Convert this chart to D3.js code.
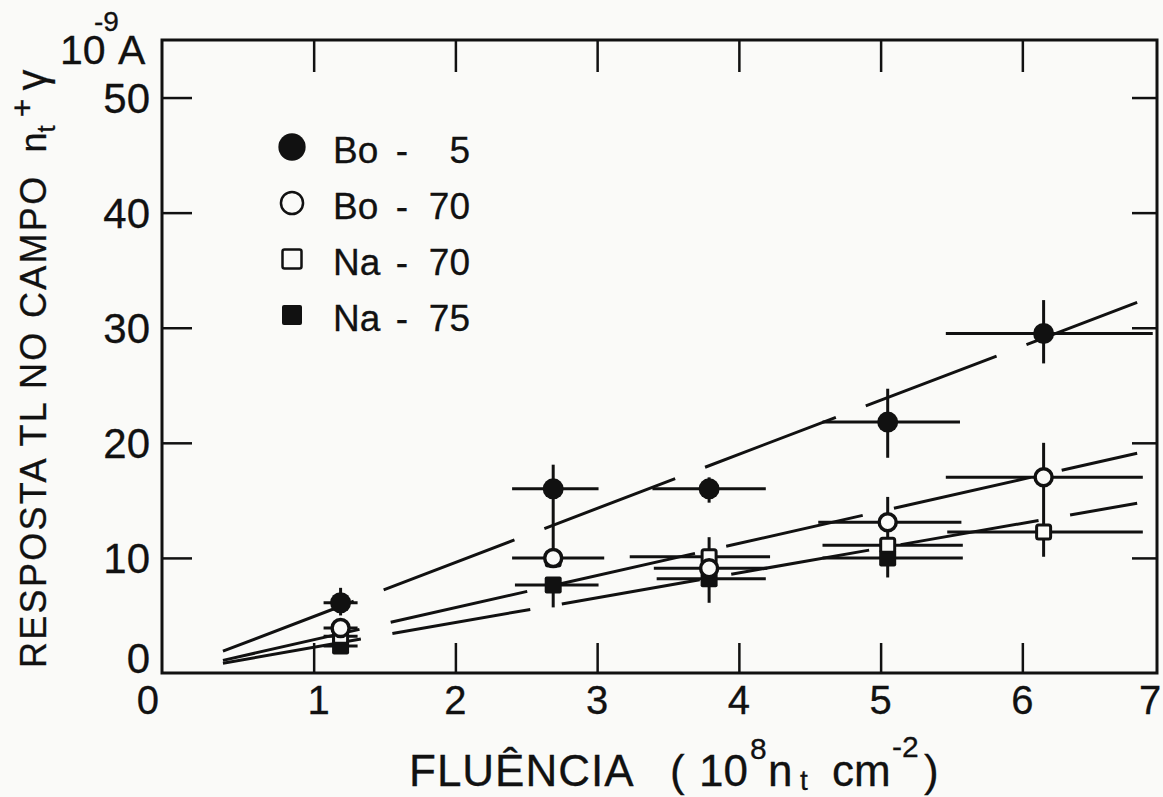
<!DOCTYPE html>
<html lang="pt">
<head>
<meta charset="UTF-8">
<title>Resposta TL no campo</title>
<script src="https://d3js.org/d3.v7.min.js"></script>
<style>
    body { margin: 0; background: #fafaf8; }
    svg text { font-family: "Liberation Sans", Arial, sans-serif; fill: #111; stroke: #111; stroke-width: 0.3px; }
</style>
</head>
<body>
<svg width="1163" height="797"></svg>
<script>
    // rows: [fluence, response, fluenceLow, fluenceHigh, responseLow, responseHigh]
    const bo5 = [
        [1.19, 6.1, 1.07, 1.31, 5.0, 7.4],
        [2.69, 16.0, 2.40, 3.01, 10.0, 18.1],
        [3.79, 16.0, 3.39, 4.19, 14.8, 17.0],
        [5.05, 21.8, 4.59, 5.56, 18.7, 24.7],
        [6.15, 29.5, 5.46, 6.92, 26.9, 32.4]
    ];
    const bo70 = [
        [1.19, 3.9, 1.07, 1.31, null, null],
        [2.69, 10.0, 2.40, 3.05, null, null],
        [3.79, 9.1, 3.40, 4.20, 6.1, 11.8],
        [5.05, 13.1, 4.56, 5.57, 11.1, 15.3],
        [6.15, 17.0, 5.46, 6.85, 12.2, 20.0]
    ];
    const na70 = [
        [1.19, 3.2, 1.07, 1.31, null, null],
        [2.69, 9.9, null, null, null, null],
        [3.79, 10.1, 3.23, 4.22, null, null],
        [5.05, 11.1, 4.59, 5.58, null, null],
        [6.15, 12.25, 5.47, 6.85, 10.1, null]
    ];
    const na75 = [
        [1.19, 2.35, 1.07, 1.31, null, null],
        [2.69, 7.65, 2.42, 3.01, 5.7, null],
        [3.79, 8.2, 3.42, 4.19, null, null],
        [5.05, 10.0, 4.59, 5.58, 8.3, null]
    ];

    // dashed fitted lines: response at fitStart and fitEnd
    const fitStart = 0.36, fitEnd = 6.81;
    const fitBo5 = [1.9, 32.2];
    const fitBo70 = [1.1, 19.1];
    const fitNa = [0.85, 14.75];

    const xTicks = [0, 1, 2, 3, 4, 5, 6, 7];
    const yTicks = [0, 10, 20, 30, 40, 50];
    const legendNames = ["Bo", "Bo", "Na", "Na"];
    const legendNums = ["5", "70", "70", "75"];

    const svg = d3.select("svg");
    const pLeft = 162, pRight = 1157, pTop = 40, pBottom = 673;

    const x = d3.scaleLinear().domain([-0.07, 6.95]).range([pLeft, pRight]);
    const y = d3.scaleLinear().domain([0, 55]).range([pBottom, pTop]);

    const ink = "#111";
    const bg = "#fafaf8";

    // frame
    svg.append("rect")
        .attr("x", pLeft).attr("y", pTop)
        .attr("width", pRight - pLeft).attr("height", pBottom - pTop)
        .attr("fill", "none").attr("stroke", ink).attr("stroke-width", 3);

    // ticks drawn inwards on all four sides
    const inner = xTicks.filter(d => d > 0 && d < 7);
    svg.append("g")
        .attr("transform", `translate(0,${pBottom})`)
        .call(d3.axisBottom(x).tickValues(inner).tickSize(-30).tickFormat(""))
        .call(g => g.select(".domain").remove());
    svg.append("g")
        .attr("transform", `translate(0,${pTop})`)
        .call(d3.axisTop(x).tickValues(inner).tickSize(-32).tickFormat(""))
        .call(g => g.select(".domain").remove());
    svg.append("g")
        .attr("transform", `translate(${pLeft},0)`)
        .call(d3.axisLeft(y).tickValues(yTicks.slice(1)).tickSize(-30).tickFormat(""))
        .call(g => g.select(".domain").remove());
    svg.append("g")
        .attr("transform", `translate(${pRight},0)`)
        .call(d3.axisRight(y).tickValues(yTicks.slice(1)).tickSize(-25).tickFormat(""))
        .call(g => g.select(".domain").remove());
    svg.selectAll(".tick line").attr("stroke", ink).attr("stroke-width", 2.5);

    // tick labels
    svg.append("g").selectAll("text")
        .data(xTicks).join("text")
        .attr("x", d => d === 0 ? x(d) - 24 : x(d) + (d === 1 ? 5 : d === 7 ? -14 : 0))
        .attr("y", 714)
        .attr("text-anchor", "middle")
        .attr("font-size", 40)
        .text(d => d);
    svg.append("g").selectAll("text")
        .data(yTicks).join("text")
        .attr("x", 150)
        .attr("y", d => d === 0 ? pBottom : y(d) + 15)
        .attr("text-anchor", "end")
        .attr("font-size", 42)
        .text(d => d);

    // units at top of y axis
    svg.append("text").attr("x", 60).attr("y", 64).attr("font-size", 41).text("10");
    svg.append("text").attr("x", 94).attr("y", 31).attr("font-size", 28).text("-9");
    svg.append("text").attr("x", 118).attr("y", 64).attr("font-size", 41).text("A");

    // y axis title
    const yt = svg.append("text")
        .attr("transform", "translate(46,668) rotate(-90)")
        .attr("font-size", 36);
    yt.append("tspan").attr("letter-spacing", 2.3).text("RESPOSTA TL NO CAMPO");
    yt.append("tspan").attr("dx", 22).text("n");
    yt.append("tspan").attr("dy", 9).attr("font-size", 26).text("t");
    yt.append("tspan").attr("dx", 8).attr("dy", -22).attr("font-size", 32).text("+");
    yt.append("tspan").attr("dx", 8).attr("dy", 13).attr("font-size", 42).text("γ");

    // x axis title
    const xl = svg.append("g").attr("font-size", 44);
    xl.append("text").attr("x", 409).attr("y", 786).attr("letter-spacing", 1).text("FLUÊNCIA");
    xl.append("text").attr("x", 670).attr("y", 786).text("(");
    xl.append("text").attr("x", 699).attr("y", 786).text("10");
    xl.append("text").attr("x", 750).attr("y", 759).attr("font-size", 30).text("8");
    xl.append("text").attr("x", 768).attr("y", 786).text("n");
    xl.append("text").attr("x", 800).attr("y", 790).attr("font-size", 28).text("t");
    xl.append("text").attr("x", 832).attr("y", 786).text("cm");
    xl.append("text").attr("x", 892).attr("y", 757).attr("font-size", 30).text("-2");
    xl.append("text").attr("x", 924).attr("y", 786).text(")");

    // dashed fitted lines
    const fits = [fitBo5, fitBo70, fitNa];
    const line = d3.line().x(d => x(d[0])).y(d => y(d[1]));
    svg.append("g").selectAll("path")
        .data(fits).join("path")
        .attr("d", f => line([[fitStart, f[0]], [fitEnd, f[1]]]))
        .attr("fill", "none")
        .attr("stroke", ink)
        .attr("stroke-width", 3)
        .attr("stroke-dasharray", "140,32");

    // error bars
    const series = [bo5, bo70, na70, na75];
    const bars = svg.append("g").attr("stroke", ink).attr("stroke-width", 3);
    series.forEach(rows => {
        rows.forEach(r => {
            if (r[2] !== null) {
                bars.append("line")
                    .attr("x1", x(r[2])).attr("x2", x(r[3]))
                    .attr("y1", y(r[1])).attr("y2", y(r[1]));
            }
            const lo = r[4] !== null ? r[4] : r[1];
            const hi = r[5] !== null ? r[5] : r[1];
            if (lo !== hi) {
                bars.append("line")
                    .attr("x1", x(r[0])).attr("x2", x(r[0]))
                    .attr("y1", y(lo)).attr("y2", y(hi));
            }
        });
    });

    // markers
    function marker(g, kind, cx, cy, big) {
        const k = big ? 1.3 : 1;
        if (kind === 0) {
            g.append("circle").attr("cx", cx).attr("cy", cy).attr("r", 10.5 * k).attr("fill", ink);
        } else if (kind === 1) {
            g.append("circle").attr("cx", cx).attr("cy", cy).attr("r", 8.5 * k)
                .attr("fill", bg).attr("stroke", ink).attr("stroke-width", big ? 2.5 : 3.5);
        } else if (kind === 2) {
            const s = big ? 19 : 14;
            g.append("rect").attr("x", cx - s / 2).attr("y", cy - s / 2)
                .attr("width", s).attr("height", s).attr("rx", 2)
                .attr("fill", bg).attr("stroke", ink).attr("stroke-width", big ? 2.5 : 3);
        } else {
            const s = big ? 20 : 17;
            g.append("rect").attr("x", cx - s / 2).attr("y", cy - s / 2)
                .attr("width", s).attr("height", s).attr("rx", 2)
                .attr("fill", ink);
        }
    }

    const marks = svg.append("g");
    [3, 2, 1, 0].forEach(i => {
        series[i].forEach(r => marker(marks, i, x(r[0]), y(r[1]), false));
    });

    // legend
    const leg = svg.append("g");
    legendNames.forEach((name, i) => {
        const ly = 147 + i * 56;
        marker(leg, i, 292, ly, true);
        leg.append("text").attr("x", 333).attr("y", ly + 16).attr("font-size", 37).text(name);
        leg.append("text").attr("x", 402).attr("y", ly + 16).attr("font-size", 37)
            .attr("text-anchor", "middle").text("-");
        leg.append("text").attr("x", 470).attr("y", ly + 16).attr("font-size", 37)
            .attr("text-anchor", "end").text(legendNums[i]);
    });
</script>
</body>
</html>
